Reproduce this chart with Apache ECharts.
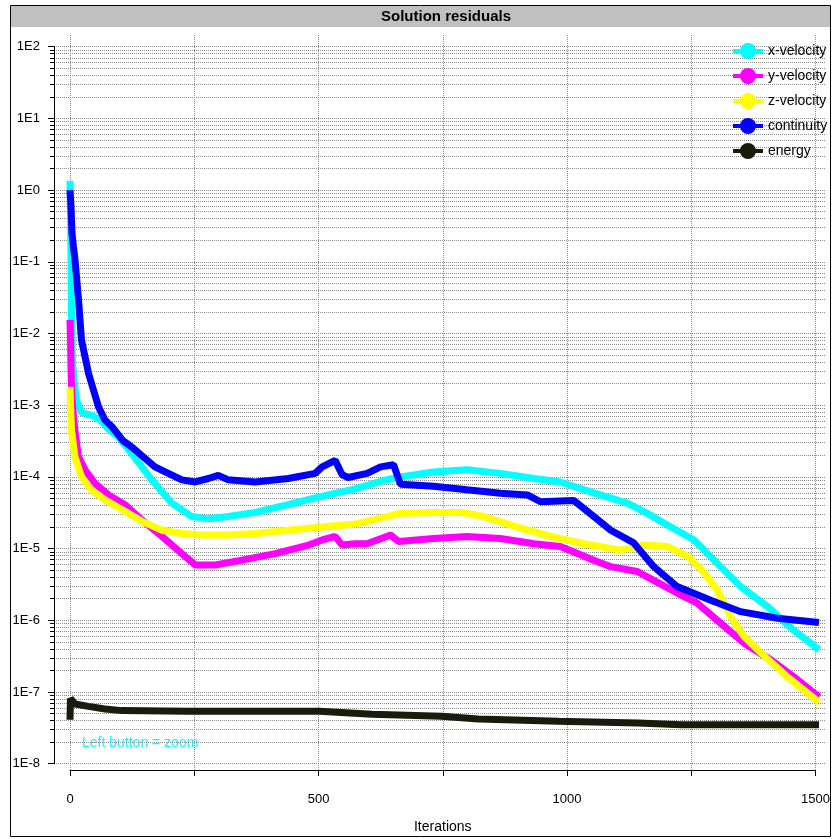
<!DOCTYPE html>
<html>
<head>
<meta charset="utf-8">
<title>Solution residuals</title>
<script src="https://cdn.jsdelivr.net/npm/echarts@6/dist/echarts.min.js"></script>
<style>
  html, body { margin: 0; padding: 0; background: #fff; }
  #chart { width: 833px; height: 839px; }
</style>
</head>
<body>
<div id="chart"></div>
<script>
// residual histories (iteration, residual)
const xVelocityIters = [0, 1, 2, 3, 4, 5, 8, 13, 23, 43, 60, 76, 97, 124, 164, 204, 244, 277, 317, 371, 437, 505, 571, 628, 662, 728, 795, 862, 929, 982, 1049, 1116, 1156, 1203, 1250, 1290, 1343, 1397, 1450, 1500];
const xVelocityValues = [1.35, 0.5, 0.11, 0.017, 7.4e-3, 3.9e-3, 2.2e-3, 1.17e-3, 7.9e-4, 7.2e-4, 6.3e-4, 4.7e-4, 3.6e-4, 2.1e-4, 9.1e-5, 4.3e-5, 2.8e-5, 2.6e-5, 2.8e-5, 3.2e-5, 4.1e-5, 5.4e-5, 6.8e-5, 8.9e-5, 1.0e-4, 1.17e-4, 1.26e-4, 1.12e-4, 9.5e-5, 8.5e-5, 6.0e-5, 4.3e-5, 3.1e-5, 2.0e-5, 1.32e-5, 6.9e-6, 2.95e-6, 1.55e-6, 7.2e-7, 3.9e-7];

const yVelocityIters = [0, 1, 2, 4, 7, 10, 17, 30, 50, 77, 110, 144, 184, 224, 251, 291, 344, 411, 478, 505, 531, 545, 571, 595, 642, 658, 728, 795, 862, 929, 982, 1049, 1083, 1136, 1169, 1216, 1256, 1303, 1350, 1404, 1450, 1500];
const yVelocityValues = [1.55e-2, 8.1e-3, 3.1e-3, 1.26e-3, 6.9e-4, 4.3e-4, 1.9e-4, 1.26e-4, 8.1e-5, 5.6e-5, 4.1e-5, 2.5e-5, 1.48e-5, 8.5e-6, 5.9e-6, 5.9e-6, 6.9e-6, 8.5e-6, 1.12e-5, 1.32e-5, 1.48e-5, 1.12e-5, 1.17e-5, 1.17e-5, 1.55e-5, 1.26e-5, 1.38e-5, 1.48e-5, 1.38e-5, 1.17e-5, 1.07e-5, 6.9e-6, 5.6e-6, 4.8e-6, 3.6e-6, 2.4e-6, 1.74e-6, 9.1e-7, 4.8e-7, 2.8e-7, 1.62e-7, 8.5e-8];

const zVelocityIters = [0, 1, 3, 10, 23, 43, 70, 104, 144, 184, 224, 264, 317, 371, 437, 505, 571, 662, 728, 782, 829, 896, 962, 1029, 1103, 1149, 1196, 1237, 1270, 1297, 1323, 1350, 1384, 1437, 1500];
const zVelocityValues = [1.8e-3, 1.0e-3, 4.5e-4, 1.9e-4, 1.0e-4, 6.6e-5, 4.8e-5, 3.5e-5, 2.4e-5, 1.8e-5, 1.62e-5, 1.55e-5, 1.55e-5, 1.62e-5, 1.8e-5, 2.0e-5, 2.2e-5, 3.1e-5, 3.2e-5, 3.2e-5, 2.8e-5, 2.0e-5, 1.48e-5, 1.17e-5, 9.5e-6, 1.12e-5, 1.07e-5, 7.8e-6, 4.6e-6, 2.6e-6, 1.12e-6, 5.9e-7, 3.5e-7, 1.62e-7, 7.2e-8];

const continuityIters = [0, 2, 4, 7, 10, 17, 23, 37, 57, 70, 84, 106, 124, 170, 224, 251, 277, 297, 317, 371, 437, 491, 505, 531, 545, 557, 595, 622, 648, 658, 662, 728, 795, 862, 916, 942, 1009, 1049, 1083, 1129, 1169, 1216, 1283, 1343, 1417, 1500];
const continuityValues = [1.0, 0.6, 0.25, 0.16, 0.107, 0.03, 8.1e-3, 2.8e-3, 9.5e-4, 6.2e-4, 5.0e-4, 3.2e-4, 2.6e-4, 1.38e-4, 9.1e-5, 8.5e-5, 9.5e-5, 1.05e-4, 9.1e-5, 8.5e-5, 9.5e-5, 1.12e-4, 1.38e-4, 1.7e-4, 1.07e-4, 9.8e-5, 1.12e-4, 1.38e-4, 1.48e-4, 9.3e-5, 7.9e-5, 7.4e-5, 6.6e-5, 5.9e-5, 5.6e-5, 4.5e-5, 4.7e-5, 2.8e-5, 1.8e-5, 1.2e-5, 5.6e-6, 2.95e-6, 1.9e-6, 1.32e-6, 1.07e-6, 9.3e-7];

const energyIters = [0, 1, 5, 10, 37, 70, 104, 236, 371, 499, 605, 744, 818, 978, 1138, 1223, 1500];
const energyValues = [4.1e-8, 8.1e-8, 7.6e-8, 6.8e-8, 6.3e-8, 5.8e-8, 5.5e-8, 5.4e-8, 5.4e-8, 5.4e-8, 4.9e-8, 4.6e-8, 4.2e-8, 3.9e-8, 3.7e-8, 3.5e-8, 3.5e-8];

const seriesNames = ["x-velocity", "y-velocity", "z-velocity", "continuity", "energy"];
const seriesColors = ["#00ffff", "#ff00ff", "#ffff00", "#0000ff", "#1b1b0b"];
const xTickLabels = ["0", "500", "1000", "1500"];
const yTickLabels = ["1E-8", "1E-7", "1E-6", "1E-5", "1E-4", "1E-3", "1E-2", "1E-1", "1E0", "1E1", "1E2"];

const SANS = "'Liberation Sans', Arial, sans-serif";
const PLOT_TOP = 46.7;
const PLOT_BOTTOM = 75.3;

const toPairs = (iters, values) => iters.map((it, i) => [it, values[i]]);

const dotted = { color: "#8c8c8c", width: 1, type: [1, 1] };

const seriesData = [
  toPairs(xVelocityIters, xVelocityValues),
  toPairs(yVelocityIters, yVelocityValues),
  toPairs(zVelocityIters, zVelocityValues),
  toPairs(continuityIters, continuityValues),
  toPairs(energyIters, energyValues),
];

const chart = echarts.init(document.getElementById("chart"), null, { renderer: "canvas" });

chart.setOption({
  animation: false,
  backgroundColor: "#ffffff",
  grid: [
    // y axis and horizontal grid lines
    { left: 54, right: 8, top: PLOT_TOP, bottom: PLOT_BOTTOM },
    // x axis and vertical grid lines
    { left: 70, right: 14, top: 35, bottom: 69 },
    // residual curves
    { left: 70, right: 14, top: PLOT_TOP, bottom: PLOT_BOTTOM },
  ],
  xAxis: [
    { gridIndex: 0, type: "value", min: 0, max: 1, show: false },
    {
      gridIndex: 1,
      type: "value",
      min: 0,
      max: 1500,
      interval: 250,
      offset: 6,
      name: "Iterations",
      nameLocation: "middle",
      nameGap: 44,
      nameTextStyle: { color: "#000", fontFamily: SANS, fontSize: 14 },
      axisLine: { show: true, lineStyle: { color: "#000", width: 1 } },
      axisTick: { show: true, length: 6, lineStyle: { color: "#000" } },
      axisLabel: {
        color: "#000",
        fontFamily: SANS,
        fontSize: 13,
        margin: 17,
        formatter: (v) => (xTickLabels.includes(String(v)) ? String(v) : ""),
      },
      splitLine: { show: true, lineStyle: dotted },
    },
    { gridIndex: 2, type: "value", min: 0, max: 1500, show: false },
  ],
  yAxis: [
    {
      gridIndex: 0,
      type: "log",
      logBase: 10,
      min: 1e-8,
      max: 1e2,
      interval: 1,
      axisLine: { show: true, lineStyle: { color: "#000", width: 1 } },
      axisTick: { show: true, length: 6, lineStyle: { color: "#000" } },
      minorTick: { show: true, splitNumber: 9, length: 4, lineStyle: { color: "#000" } },
      axisLabel: {
        color: "#000",
        fontFamily: SANS,
        fontSize: 13,
        margin: 14,
        formatter: (v) => yTickLabels[Math.round(Math.log10(v)) + 8] || "",
      },
      splitLine: { show: true, lineStyle: dotted },
      minorSplitLine: { show: true, lineStyle: dotted },
    },
    { gridIndex: 1, type: "value", show: false },
    { gridIndex: 2, type: "log", logBase: 10, min: 1e-8, max: 1e2, show: false },
  ],
  legend: {
    data: seriesNames,
    orient: "vertical",
    left: 731,
    top: 43,
    padding: 0,
    itemWidth: 30,
    itemHeight: 20,
    itemGap: 9,
    selectedMode: false,
    lineStyle: { width: 4 },
    textStyle: { color: "#000", fontFamily: SANS, fontSize: 14 },
  },
  graphic: [
    {
      type: "rect",
      shape: { x: 10.5, y: 5.5, width: 820, height: 831 },
      style: { fill: "none", stroke: "#000", lineWidth: 1 },
      silent: true,
    },
    {
      type: "rect",
      shape: { x: 11, y: 6, width: 819, height: 21 },
      style: { fill: "#c0c0c0" },
      silent: true,
    },
    {
      type: "text",
      x: 446,
      y: 16.5,
      style: {
        text: "Solution residuals",
        fill: "#000",
        font: "bold 15px " + SANS,
        textAlign: "center",
        textVerticalAlign: "middle",
      },
      silent: true,
    },
    {
      type: "text",
      x: 82,
      y: 743,
      style: {
        text: "Left button = zoom",
        fill: "#00ffff",
        font: "14px " + SANS,
        textAlign: "left",
        textVerticalAlign: "middle",
      },
      silent: true,
    },
  ],
  series: seriesNames.map((name, i) => ({
    name,
    type: "line",
    xAxisIndex: 2,
    yAxisIndex: 2,
    data: seriesData[i],
    color: seriesColors[i],
    symbol: "circle",
    symbolSize: 8,
    showSymbol: false,
    lineStyle: { width: 7, color: seriesColors[i] },
    emphasis: { disabled: true },
  })),
});
</script>
</body>
</html>
